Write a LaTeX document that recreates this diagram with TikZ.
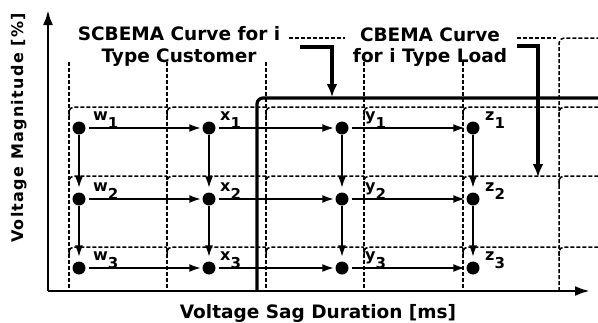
\documentclass[tikz,border=0pt]{standalone}
\usepackage{fontspec}
\setmainfont{DejaVu Sans}
\usetikzlibrary{arrows.meta}
\begin{document}
\begin{tikzpicture}[x=1pt,y=-1pt,
  dot/.style={circle,fill=black,inner sep=0pt,minimum size=13pt},
  flow/.style={line width=2.2pt,-{Latex[length=12pt,width=8pt]}},
  gridline/.style={line width=1.5pt,dash pattern=on 4pt off 2pt},
  curve/.style={line width=3.2pt},
  callout/.style={line width=3.2pt,-{Latex[length=13pt,width=11pt]}},
  axis/.style={line width=2.8pt,-{Latex[length=15pt,width=10pt]}},
  lbl/.style={inner sep=0pt,anchor=base west,font=\fontsize{16}{16}\selectfont\bfseries},
  title/.style={inner sep=0pt,anchor=base,font=\fontsize{18.5}{22}\selectfont\bfseries},
]
\useasboundingbox (0,0) rectangle (598,322);

% dashed grid
\foreach \x in {69,167,266,364,463} {
  \draw[gridline] (\x,62) -- (\x,291);
}
\foreach \y in {107,176,247} {
  \foreach \xa/\xb in {69/167,167/266,266/364,364/463,463/559,559/598} {
    \draw[gridline,rounded corners=5pt] (\xa,\y+9) |- (\xb,\y);
  }
}
\draw[gridline,rounded corners=5pt] (559,291) |- (598,38);
\draw[gridline] (517,38) -- (556,38);
\draw[gridline] (289,38) -- (345,38);

% axes
\coordinate (O) at (48,291);
\coordinate (ytip) at (48,10);
\coordinate (xtip) at (590,291);
\draw[axis] (O) -- (ytip);
\draw[axis] (O) -- (xtip);

% curves
\draw[curve,rounded corners=6pt] (257,291) |- (598,98);

% titles
\node[title] (t1a) at (179,40) {SCBEMA Curve for i};
\node[title] (t1b) at (179,62) {Type Customer};
\node[title] (t2a) at (430,41) {CBEMA Curve};
\node[title] (t2b) at (430,62) {for i Type Load};

% callout arrows
\coordinate (s0) at (300,47);
\coordinate (s1) at (332,97);
\draw[callout] (s0) -| (s1);
\coordinate (c0) at (517,46);
\coordinate (c1) at (538,177);
\draw[callout] (c0) -| (c1);

% axis labels
\node[inner sep=0pt,anchor=base,font=\fontsize{18.5}{20}\selectfont\bfseries] (xl) at (318,318) {Voltage Sag Duration [ms]};
\node[inner sep=0pt,rotate=90,font=\fontsize{16}{18}\selectfont\bfseries\addfontfeatures{LetterSpace=8}] (yl) at (19,128) {Voltage Magnitude [\%]};

% dots
\foreach \n/\x in {w/79,x/209,y/342,z/473} {
  \foreach \r/\y in {1/128,2/199,3/268} {
    \node[dot] (\n\r) at (\x,\y) {};
  }
}

% labels
\foreach \n/\x in {w/93,x/220,y/365,z/485} {
  \foreach \r/\y in {1/120,2/191,3/260} {
    \node[lbl] (l\n\r) at (\x,\y) {\n\raisebox{-8pt}{\fontsize{15}{15}\selectfont\r}};
  }
}

% horizontal flows
\foreach \r in {1,2,3} {
  \draw[flow,shorten <=3pt,shorten >=1pt] (w\r) -- (x\r);
  \draw[flow,shorten <=3pt,shorten >=1pt] (x\r) -- (y\r);
  \draw[flow,shorten <=3pt,shorten >=1pt] (y\r) -- (z\r);
}
% vertical flows
\foreach \n in {w,x,y,z} {
  \draw[flow,shorten >=4pt] (\n1) -- (\n2);
  \draw[flow,shorten >=4pt] (\n2) -- (\n3);
}
\end{tikzpicture}
\end{document}
